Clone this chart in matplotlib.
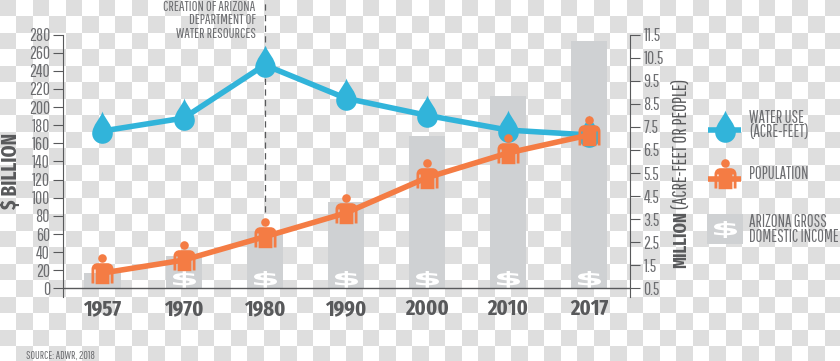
import matplotlib
matplotlib.use('Agg')
import matplotlib.pyplot as plt
import numpy as np
from matplotlib.path import Path
from matplotlib.textpath import TextPath
from matplotlib.font_manager import FontProperties
from matplotlib.transforms import Affine2D

years = ['1957', '1970', '1980', '1990', '2000', '2010', '2017']
income = [17.5, 36, 63, 95, 168, 212, 273]
water = [7.32, 7.88, 10.18, 8.74, 8.0, 7.36, 7.15]
population = [1.17, 1.73, 2.74, 3.77, 5.3, 6.37, 7.15]
left_ticks = list(range(0, 281, 20))
right_ticks = [0.5, 1.5, 2.5, 3.5, 4.5, 5.5, 6.5, 7.5, 8.5, 9.5, 10.5, 11.5]

BLUE = '#31B4DA'
ORANGE = '#F47C44'
BAR = '#CFD1D3'
DARK = '#58595B'
GREY = '#6D6E71'
FONT = ['Pathway Gothic One', 'Liberation Sans', 'DejaVu Sans']
BOLD = ['Fira Sans Extra Condensed', 'Liberation Sans', 'DejaVu Sans']
plt.rcParams['font.family'] = FONT

W, H = 840, 361
fig = plt.figure(figsize=(W / 100, H / 100), dpi=100)

# drop marker, in pixels around the data point
drop = Path(
    [(0, 20), (1.5, 14), (10.3, 6), (10.3, -2), (10.3, -7.7), (5.7, -12.3), (0, -12.3),
     (-5.7, -12.3), (-10.3, -7.7), (-10.3, -2), (-10.3, 6), (-1.5, 14), (0, 20), (0, 20)],
    [Path.MOVETO] + [Path.CURVE4] * 12 + [Path.CLOSEPOLY])

# person marker: body with slits beside the arms, then the head
body = Path(
    [(-11, -10), (-8.2, -10), (-8.2, 4), (-6.9, 4), (-6.9, -10.7), (6.9, -10.7), (6.9, 4), (8.2, 4),
     (8.2, -10), (11, -10), (11, 4), (11, 8.5), (8, 10.3), (5, 10.3), (-5, 10.3), (-8, 10.3),
     (-11, 8.5), (-11, 4), (-11, -10), (-11, -10)],
    [Path.MOVETO] + [Path.LINETO] * 10 + [Path.CURVE4] * 3 + [Path.LINETO] + [Path.CURVE4] * 3
    + [Path.LINETO, Path.CLOSEPOLY])
head = Path.circle((0, 15), 4.3)
person = Path.make_compound_path(body, head)

# wide dollar icon
dollar = TextPath((0, 0), '$', size=10, prop=FontProperties(family='DejaVu Sans', weight='bold'))
box = dollar.get_extents()
dollar = dollar.transformed(Affine2D().translate(-box.x0 - box.width / 2, -box.y0 - box.height / 2)
                            .scale(23 / box.width, 17 / box.height))

PX = 0.72
DROP_MS = 2 * np.abs(drop.vertices).max() * PX
PERSON_MS = 2 * np.abs(person.vertices).max() * PX
DOLLAR_MS = 2 * np.abs(dollar.vertices).max() * PX

# background and everything placed in pixels
bg = fig.add_axes([0, 0, 1, 1], zorder=0)
cell = 16.5
rows, cols = np.indices((23, 52))
board = np.where((rows + cols) % 2 == 0, 0.87, 1.0)
bg.imshow(board, cmap='gray', vmin=0, vmax=1, interpolation='nearest', aspect='auto',
          extent=(0, 52 * cell, 23 * cell, 0))
bg.axis('off')

# main axes
left, right, top, bottom = 62.5, 629.5, 34.5, 297
ax = fig.add_axes([left / W, 1 - bottom / H, (right - left) / W, (bottom - top) / H], zorder=1)
ax.patch.set_visible(False)
x = np.arange(len(years))
ax.bar(x, income, width=0.445, color=BAR, zorder=2)
ax.plot(x[1:], [10] * 6, ls='none', marker=dollar, ms=DOLLAR_MS, color='white', mew=0, zorder=3)
ax.axhline(0, color=DARK, lw=1, zorder=4)
ax.plot([x[2], x[2]], [84, 320], color=DARK, lw=0.9, ls=(0, (5, 3.5)), clip_on=False, zorder=1)
ax.set_xlim(-0.493, 6.498)
ax.set_ylim(-9.4, 280)
ax.set_xticks(x, years, fontsize=16, fontweight='bold', color=DARK, family=BOLD)
ax.set_yticks(left_ticks)
ax.tick_params(axis='x', length=0, pad=1)
ax.tick_params(axis='y', length=7, width=0.8, color=DARK, labelsize=12.5, labelcolor=GREY, pad=2)
for s in ['top', 'right', 'bottom']:
    ax.spines[s].set_visible(False)
ax.spines['left'].set_color(DARK)
ax.spines['left'].set_linewidth(0.8)

ax2 = ax.twinx()
ax2.set_zorder(2)
ax2.patch.set_visible(False)
ax2.plot(x, water, color=BLUE, lw=4, marker=drop, ms=DROP_MS, mew=0)
ax2.plot(x, population, color=ORANGE, lw=4, marker=person, ms=PERSON_MS, mew=0)
ax2.set_ylim(0.5 - 8.5 / 23.09, 11.5)
ax2.set_yticks(right_ticks, [str(t) for t in right_ticks])
ax2.tick_params(axis='y', length=7, width=0.8, color=DARK, labelsize=12.5, labelcolor=GREY, pad=3)
for s in ['top', 'left', 'bottom']:
    ax2.spines[s].set_visible(False)
ax2.spines['right'].set_color(DARK)
ax2.spines['right'].set_linewidth(0.8)

# axis titles
bg.text(10.5, 171, '$ BILLION', rotation=90, ha='center', va='center', fontsize=15,
        fontweight='bold', color=DARK, family=BOLD)
bg.text(681, 240, 'MILLION', rotation=90, ha='center', va='center', fontsize=13,
        fontweight='bold', color=DARK, family=BOLD)
bg.text(681, 143.5, '(ACRE-FEET OR PEOPLE)', rotation=90, ha='center', va='center', fontsize=13.7,
        color=DARK)

# note beside the dashed line
for y, line in zip([7, 20.5, 34], ['CREATION OF ARIZONA', 'DEPARTMENT OF', 'WATER RESOURCES']):
    bg.text(255.7, y, line, ha='right', va='center', fontsize=10.3, color=GREY)

bg.text(26.5, 356, 'SOURCE: ADWR, 2018', ha='left', va='center', fontsize=8, color=GREY)

# legend
bg.plot([708, 741], [129.5, 129.5], color=BLUE, lw=4, solid_capstyle='butt')
bg.plot([724.5], [129.5], marker=drop, ms=DROP_MS, mew=0, color=BLUE)
bg.plot([708, 741], [178.5, 178.5], color=ORANGE, lw=4, solid_capstyle='butt')
bg.plot([724.5], [177.5], marker=person, ms=PERSON_MS, mew=0, color=ORANGE)
bg.fill_between([707, 742.7], 214, 244, color=BAR, lw=0)
bg.plot([724.5], [229], marker=dollar, ms=DOLLAR_MS, mew=0, color='white')
bg.set_xlim(0, W)
bg.set_ylim(H, 0)

for y, line in [(118, 'WATER USE'), (133, '(ACRE-FEET)'), (174, 'POPULATION'),
                (222, 'ARIZONA GROSS'), (236.7, 'DOMESTIC INCOME')]:
    bg.text(749.3, y, line, ha='left', va='center', fontsize=11.9, color=GREY)

fig.savefig('out.png', dpi=100)
